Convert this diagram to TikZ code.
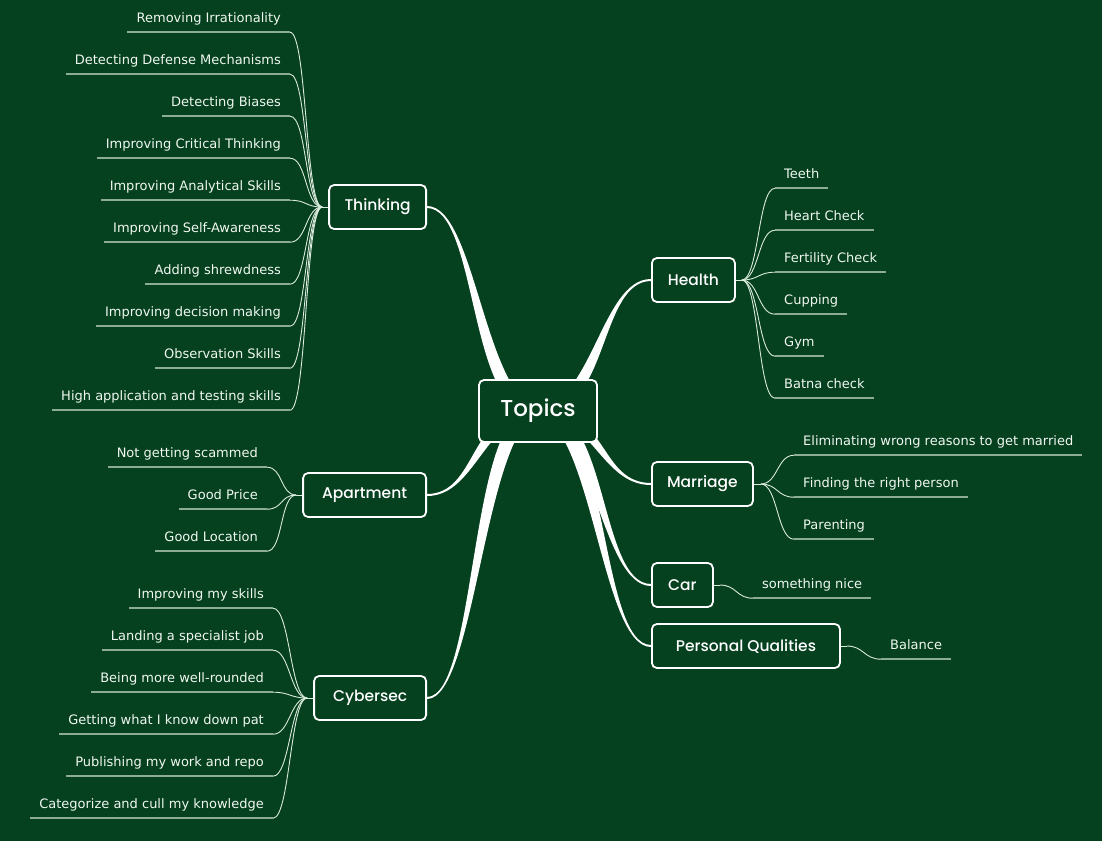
\documentclass[tikz,border=0pt]{standalone}
\usepackage{fontspec}
\setmainfont{DejaVu Sans}
\newfontfamily\topicfont{Poppins}[UprightFont={* Medium}]
\usetikzlibrary{calc,positioning,backgrounds}

\definecolor{board}{RGB}{5,64,31}
\definecolor{chalk}{RGB}{240,248,240}
\definecolor{twigline}{RGB}{218,234,220}
\definecolor{ruleline}{RGB}{140,172,150}

\tikzset{
  topic/.style={draw=white, line width=1.8pt, fill=board, rounded corners=5pt,
    text=white, font=\topicfont\fontsize{15.5}{18}\selectfont,
    minimum height=44pt, inner xsep=0pt},
  root/.style={topic, font=\topicfont\fontsize{23}{26}\selectfont, minimum height=62pt},
  leaf/.style={text=chalk, font=\fontsize{13}{15}\selectfont, inner xsep=9pt,
    inner ysep=6.5pt, text height=10pt, text depth=3pt},
  twig/.style={draw=twigline, line width=0.9pt},
  rule/.style={draw=ruleline, line width=1.5pt}
}

\begin{document}
\begin{tikzpicture}[x=1pt,y=-1pt]
\useasboundingbox (0,0) rectangle (1102,841);

% main topics
\node[root, minimum width=118pt] (topics) at (538,411) {Topics};
\node[topic, minimum width=97pt, anchor=east] (thinking) at (427,207) {Thinking};
\node[topic, minimum width=123pt, anchor=east] (apartment) at (427,495) {Apartment};
\node[topic, minimum width=112pt, anchor=east] (cybersec) at (427,698) {Cybersec};
\node[topic, minimum width=83pt, anchor=west] (health) at (651,280) {Health};
\node[topic, minimum width=101pt, anchor=west] (marriage) at (651,484) {Marriage};
\node[topic, minimum width=61pt, anchor=west] (car) at (651,585) {Car};
\node[topic, minimum width=188pt, anchor=west] (quals) at (651,646) {Personal Qualities};

% tapered branches
\begin{scope}[on background layer]
\fill[board] (0,0) rectangle (1102,841);
\foreach \n/\a/\s/\r in {thinking/east/-8/8, apartment/east/8/-8, cybersec/east/8/-8,
    health/west/8/-8, marriage/west/-8/8, car/west/-8/8, quals/west/-8/8}{
  \coordinate (m) at ($(\n.\a)!0.45!(topics.center)$);
  \fill[white] ([yshift=-1pt]\n.\a) .. controls ([yshift=-1pt]m |- \n.\a)
    and ([xshift=\s pt]m |- topics.center) .. ([xshift=\s pt]topics.center)
    -- ([xshift=\r pt]topics.center) .. controls ([xshift=\r pt]m |- topics.center)
    and ([yshift=1pt]m |- \n.\a) .. ([yshift=1pt]\n.\a) -- cycle;
}
\end{scope}

% hubs
\coordinate (thinkingJ) at ([xshift=-6pt]thinking.west);
\coordinate (apartmentJ) at ([xshift=-6pt]apartment.west);
\coordinate (cybersecJ) at ([xshift=-6pt]cybersec.west);
\coordinate (healthJ) at ([xshift=6pt]health.east);
\coordinate (marriageJ) at ([xshift=7pt]marriage.east);
\coordinate (carJ) at ([xshift=6pt]car.east);
\coordinate (qualsJ) at ([xshift=6pt]quals.east);
\foreach \n/\a/\j in {thinking/west/thinkingJ, apartment/west/apartmentJ,
    cybersec/west/cybersecJ, health/east/healthJ, marriage/east/marriageJ,
    car/east/carJ, quals/east/qualsJ}
  \draw[twig] (\n.\a) -- (\j);

% left leaves
\foreach \t [count=\i from 0] in {Removing Irrationality, Detecting Defense Mechanisms,
    Detecting Biases, Improving Critical Thinking, Improving Analytical Skills,
    Improving Self-Awareness, Adding shrewdness, Improving decision making,
    Observation Skills, High application and testing skills}{
  \node[leaf, anchor=east] (thinking\i) at (290,{19+42*\i}) {\t};
  \draw[twig] (thinkingJ) .. controls +(-17,0) and +(17,0) .. (thinking\i.south east);
  \draw[rule] (thinking\i.south west) -- (thinking\i.south east);
}
\foreach \t [count=\i from 0] in {Not getting scammed, Good Price, Good Location}{
  \node[leaf, anchor=east] (apartment\i) at (267,{454+42*\i}) {\t};
  \draw[twig] (apartmentJ) .. controls +(-16,0) and +(16,0) .. (apartment\i.south east);
  \draw[rule] (apartment\i.south west) -- (apartment\i.south east);
}
\foreach \t [count=\i from 0] in {Improving my skills, Landing a specialist job,
    Being more well-rounded, Getting what I know down pat,
    Publishing my work and repo, Categorize and cull my knowledge}{
  \node[leaf, anchor=east] (cybersec\i) at (273,{595+42*\i}) {\t};
  \draw[twig] (cybersecJ) .. controls +(-17,0) and +(17,0) .. (cybersec\i.south east);
  \draw[rule] (cybersec\i.south west) -- (cybersec\i.south east);
}

% right leaves
\foreach \t [count=\i from 0] in {Teeth, Heart Check, Fertility Check, Cupping, Gym, Batna check}{
  \node[leaf, anchor=west] (health\i) at (775,{175+42*\i}) {\t};
  \draw[twig] (healthJ) .. controls +(17,0) and +(-17,0) .. (health\i.south west);
  \draw[rule] (health\i.south west) -- (health\i.south east);
}
\foreach \t [count=\i from 0] in {Eliminating wrong reasons to get married,
    Finding the right person, Parenting}{
  \node[leaf, anchor=west] (marriage\i) at (794,{442+42*\i}) {\t};
  \draw[twig] (marriageJ) .. controls +(17,0) and +(-17,0) .. (marriage\i.south west);
  \draw[rule] (marriage\i.south west) -- (marriage\i.south east);
}
\node[leaf, anchor=west] (car0) at (753,585) {something nice};
\draw[twig] (carJ) .. controls +(17,0) and +(-17,0) .. (car0.south west);
\draw[rule] (car0.south west) -- (car0.south east);
\node[leaf, anchor=west] (quals0) at (881,646) {Balance};
\draw[twig] (qualsJ) .. controls +(17,0) and +(-17,0) .. (quals0.south west);
\draw[rule] (quals0.south west) -- (quals0.south east);
\end{tikzpicture}
\end{document}
